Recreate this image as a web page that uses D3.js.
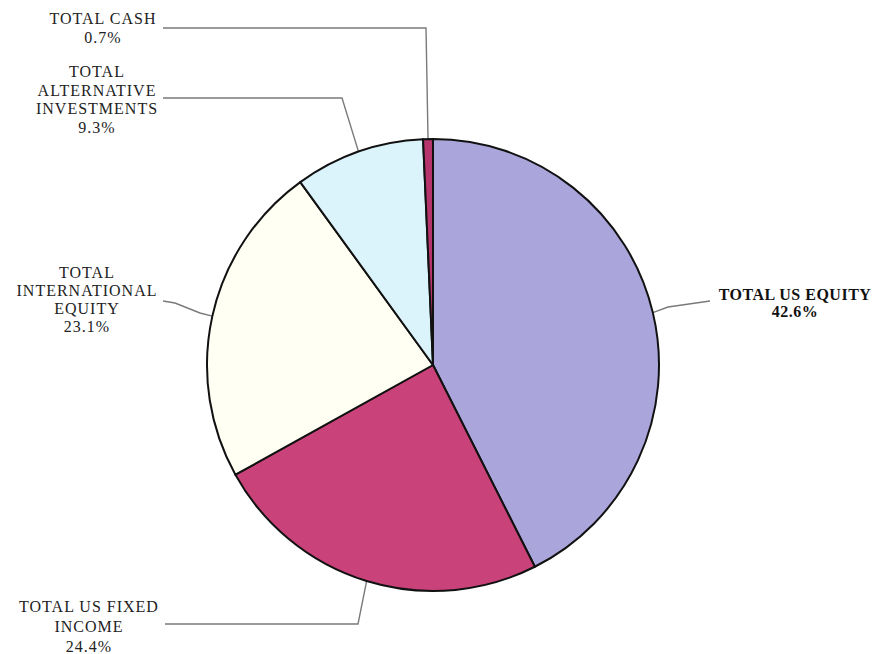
<!DOCTYPE html>
<html>
<head>
<meta charset="utf-8">
<script src="https://cdn.jsdelivr.net/npm/d3@7"></script>
<style>
  html, body { margin: 0; padding: 0; background: #fff; }
</style>
</head>
<body>
<svg width="876" height="654"></svg>
<script>
const svg = d3.select('svg');

// Data (clockwise from 12 o'clock)
const categories = ['TOTAL US EQUITY', 'TOTAL US FIXED INCOME', 'TOTAL INTERNATIONAL EQUITY',
                    'TOTAL ALTERNATIVE INVESTMENTS', 'TOTAL CASH'];
const shares = [42.6, 24.4, 23.1, 9.3, 0.7];
const colors = ['#aaa6dc', '#c9427a', '#fffff4', '#dbf3fa', '#b6356c'];
const labelLines = [
  ['TOTAL US EQUITY'],
  ['TOTAL US FIXED', 'INCOME'],
  ['TOTAL', 'INTERNATIONAL', 'EQUITY'],
  ['TOTAL', 'ALTERNATIVE', 'INVESTMENTS'],
  ['TOTAL CASH']
];

// Layout for labels: first baseline of the text block and leader elbows
const labelPos = [
  {x: 795, y: 300, bold: true, gap: 17, elbow: [[668, 307], [710, 301]]},
  {x: 89,  y: 612, gap: 20, elbow: [[358, 624], [165, 624]]},
  {x: 87,  y: 278, gap: 18, elbow: [[200, 313], [175, 303], [163, 301]]},
  {x: 97,  y: 77,  gap: 18.5, elbow: [[342, 98], [163, 98]]},
  {x: 103, y: 24,  gap: 19, elbow: [[426, 28], [163, 28]]}
];

const cx = 433, cy = 365, r = 226;
const g = svg.append('g').attr('transform', `translate(${cx},${cy})`);

const data = categories.map((c, i) => ({name: c, value: shares[i], i}));
const pie = d3.pie().value(d => d.value).sort(null);
const arc = d3.arc().innerRadius(0).outerRadius(r);
const arcs = pie(data);

// Leader lines (drawn before slices so they start at the rim)
const line = d3.line();
arcs.forEach((a, i) => {
  const mid = (a.startAngle + a.endAngle) / 2;
  const rim = [r * Math.sin(mid), -r * Math.cos(mid)];
  const pts = [rim].concat(labelPos[i].elbow.map(p => [p[0] - cx, p[1] - cy]));
  g.append('path')
    .attr('d', line(pts))
    .attr('fill', 'none')
    .attr('stroke', '#7a7a7a')
    .attr('stroke-width', 1.4);
});

g.selectAll('path.slice').data(arcs)
  .enter().append('path')
    .attr('class', 'slice')
    .attr('d', arc)
    .attr('fill', d => colors[d.data.i])
    .attr('stroke', '#111')
    .attr('stroke-width', 2)
    .attr('stroke-linejoin', 'round');

// Labels
arcs.forEach((a, i) => {
  const p = labelPos[i];
  const lines = labelLines[i].concat([d3.format('.1f')(shares[i]) + '%']);
  const t = svg.append('text')
    .attr('x', p.x)
    .attr('y', p.y)
    .attr('text-anchor', 'middle')
    .attr('font-family', "'Liberation Serif', 'Times New Roman', serif")
    .attr('font-size', 16)
    .attr('font-weight', p.bold ? 'bold' : 'normal')
    .attr('letter-spacing', p.bold ? 0.5 : 1)
    .attr('fill', p.bold ? '#111' : '#222');
  lines.forEach((s, k) => {
    t.append('tspan')
      .attr('x', p.x)
      .attr('dy', k === 0 ? 0 : p.gap)
      .text(s);
  });
});
</script>
</body>
</html>
